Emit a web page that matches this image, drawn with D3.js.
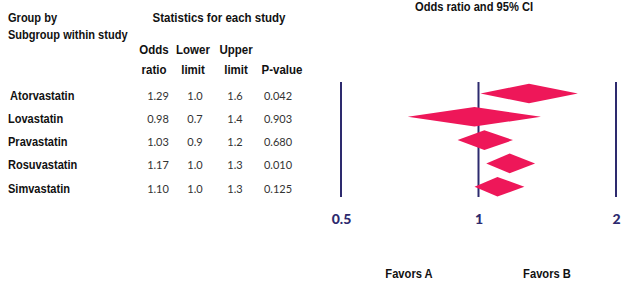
<!DOCTYPE html>
<html>
<head>
<meta charset="utf-8">
<script src="https://cdn.jsdelivr.net/npm/d3@7"></script>
<style>
  body { margin: 0; background: #fff; }
  svg { display: block; }
  .lbl { font-family: "Liberation Sans", Arial, sans-serif; font-weight: 700; fill: #111; }
  .num { font-family: "Lato", "Noto Sans", sans-serif; font-size: 11px; fill: #333; }
</style>
</head>
<body>
<div id="svg_container"></div>
<script>
const width = 634, height = 285;

// data
const studies = ["Atorvastatin", "Lovastatin", "Pravastatin", "Rosuvastatin", "Simvastatin"];
const oddsRatio = [1.29, 0.98, 1.03, 1.17, 1.10];
const lowerLimit = [1.0, 0.7, 0.9, 1.0, 1.0];
const upperLimit = [1.6, 1.4, 1.2, 1.3, 1.3];
const pValue = ["0.042", "0.903", "0.680", "0.010", "0.125"];
// diamond ends as drawn in the plot
const diamondLow = [1.01, 0.70, 0.90, 1.04, 0.98];
const diamondHigh = [1.65, 1.37, 1.19, 1.33, 1.26];
const axisTicks = [0.5, 1, 2];

const svg = d3.select("#svg_container")
    .append("svg")
    .attr("width", width)
    .attr("height", height);

const x = d3.scaleLog()
    .domain([0.5, 2])
    .range([341, 616]);

const y = d3.scalePoint()
    .domain(studies)
    .range([93.5, 186.7]);

// narrow bold label (no narrow font installed, so squeeze it)
function label(px, py, txt, size, sx, anchor) {
    return svg.append("text")
        .attr("class", "lbl")
        .attr("transform", `translate(${px},${py}) scale(${sx},1)`)
        .attr("text-anchor", anchor || "start")
        .attr("font-size", size + "px")
        .text(txt);
}

// headers
label(8, 22, "Group by", 13, 0.85);
label(8, 39, "Subgroup within study", 13, 0.85);
label(219, 22, "Statistics for each study", 12.5, 0.92, "middle");

const headX = [154, 193, 236, 282];
const colHead = [["Odds", "ratio"], ["Lower", "limit"], ["Upper", "limit"], ["", "P-value"]];
colHead.forEach(function (h, i) {
    label(headX[i], 54, h[0], 12.5, 0.92, "middle");
    label(headX[i], 74, h[1], 12.5, 0.92, "middle");
});

label(474, 11, "Odds ratio and 95% CI", 12.5, 0.89, "middle");

// rows
const colX = [158, 195, 235, 278];
const rows = svg.append("g");
studies.forEach(function (s, i) {
    const yy = y(s) + 6;
    label(i == 0 ? 10 : 8, yy, s, 13, 0.85);
    rows.append("text").attr("class", "num").attr("x", colX[0]).attr("y", yy)
        .attr("text-anchor", "middle").text(oddsRatio[i].toFixed(2));
    rows.append("text").attr("class", "num").attr("x", colX[1]).attr("y", yy)
        .attr("text-anchor", "middle").text(lowerLimit[i].toFixed(1));
    rows.append("text").attr("class", "num").attr("x", colX[2]).attr("y", yy)
        .attr("text-anchor", "middle").text(upperLimit[i].toFixed(1));
    rows.append("text").attr("class", "num").attr("x", colX[3]).attr("y", yy)
        .attr("text-anchor", "middle").text(pValue[i]);
});

// reference lines
svg.append("g")
    .selectAll("line")
    .data(axisTicks)
    .enter()
    .append("line")
    .attr("x1", d => x(d))
    .attr("x2", d => x(d))
    .attr("y1", 82)
    .attr("y2", 197)
    .attr("stroke", "#2d2a6e")
    .attr("stroke-width", 2);

// diamonds
const h = 9.8;
svg.append("g")
    .selectAll("path")
    .data(studies)
    .enter()
    .append("path")
    .attr("d", function (d, i) {
        const cy = y(d);
        return "M" + x(diamondLow[i]) + "," + cy +
            "L" + x(oddsRatio[i]) + "," + (cy - h) +
            "L" + x(diamondHigh[i]) + "," + cy +
            "L" + x(oddsRatio[i]) + "," + (cy + h) + "Z";
    })
    .attr("fill", "#ee1759");

// axis labels
const axis = svg.append("g")
    .attr("transform", "translate(0,211)")
    .call(d3.axisBottom(x).tickValues(axisTicks).tickSize(0).tickFormat(d3.format("")));
axis.select(".domain").remove();
axis.selectAll("text")
    .attr("dy", "0.71em")
    .attr("font-family", "Lato, 'Noto Sans', sans-serif")
    .attr("font-weight", "900")
    .attr("font-size", "14px")
    .attr("fill", "#2d2a6e");

label(409, 278, "Favors A", 13, 0.86, "middle");
label(547, 278, "Favors B", 13, 0.86, "middle");
</script>
</body>
</html>
